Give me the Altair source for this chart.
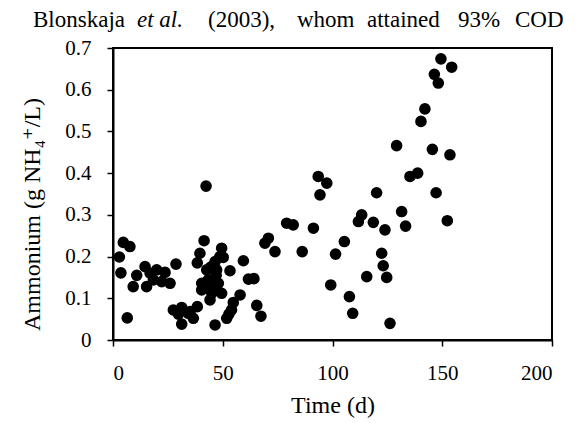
import altair as alt
import pandas as pd

# Time (d)
days = [
    2.9, 4.7, 7.7, 3.6, 6.5, 9.2, 10.8, 14.6, 15.3, 16.9, 18.4, 19.9, 22.2, 23.7, 26.0, 28.7,
    27.5, 29.8, 31.3, 31.3, 34.3, 36.6, 38.4, 35.1,
    38.4, 39.6, 41.5, 42.4, 42.7, 40.4, 40.4, 43.4, 45.7, 44.2, 46.5, 47.2, 48.0, 48.7,
    49.5, 50.2, 49.5, 46.5, 51.8, 52.8, 53.3, 54.0, 54.8, 57.9, 59.4, 61.7, 64.2, 65.5,
    67.4, 44.5, 47.0, 41.5, 45.0,
    69.2, 70.8, 73.8, 79.1, 82.1, 86.2, 91.3, 93.5, 97.4, 94.3, 99.2, 101.4, 105.4,
    107.7, 109.2, 111.8, 113.3, 115.6, 118.6, 120.1, 122.4, 123.1, 123.9, 124.7, 126.2,
    129.2, 131.5, 133.3, 135.3, 138.8, 140.3, 142.1, 145.5, 146.4, 147.2, 148.2, 149.4,
    152.3, 153.5, 154.3,
]
# Ammonium (g NH4+/L)
ammonium = [
    0.199, 0.234, 0.224, 0.161, 0.053, 0.128, 0.155, 0.176, 0.128, 0.160, 0.144, 0.168, 0.140, 0.162, 0.136, 0.182,
    0.072, 0.062, 0.078, 0.038, 0.064, 0.052, 0.080, 0.068,
    0.185, 0.208, 0.238, 0.369, 0.168, 0.136, 0.120, 0.144, 0.128, 0.096, 0.188, 0.168, 0.136, 0.200,
    0.220, 0.198, 0.112, 0.036, 0.052, 0.062, 0.166, 0.072, 0.090, 0.108, 0.190, 0.146, 0.147, 0.083,
    0.057, 0.175, 0.155, 0.130, 0.112,
    0.232, 0.244, 0.212, 0.280, 0.276, 0.212, 0.268, 0.392, 0.376, 0.348, 0.132, 0.206, 0.236,
    0.104, 0.064, 0.284, 0.300, 0.152, 0.282, 0.353, 0.208, 0.178, 0.264, 0.150, 0.040,
    0.466, 0.308, 0.273, 0.392, 0.400, 0.524, 0.554, 0.457, 0.637, 0.353, 0.616, 0.674,
    0.286, 0.444, 0.654,
]

x_ticks = [0, 50, 100, 150, 200]
y_ticks = [0, 0.1, 0.2, 0.3, 0.4, 0.5, 0.6, 0.7]

header_words = ["Blonskaja", "et al.", "(2003),", "whom", "attained", "93%", "COD"]
header_x = [33, 137, 208, 297, 367, 458, 515]
header_italic = [False, True, False, False, False, False, False]

df = pd.DataFrame({"day": days, "nh4": ammonium})

FONT = "Times New Roman, Liberation Serif, DejaVu Serif, serif"

points = alt.Chart(df).mark_circle(color="black", opacity=1, size=135).encode(
    x=alt.X(
        "day:Q",
        scale=alt.Scale(domain=[0, 200], nice=False),
        axis=alt.Axis(
            values=x_ticks,
            title="Time (d)",
            labelPadding=16,
            titlePadding=10,
        ),
    ),
    y=alt.Y(
        "nh4:Q",
        scale=alt.Scale(domain=[0, 0.7], nice=False),
        axis=alt.Axis(
            values=y_ticks,
            format="~g",
            title="Ammonium (g NH₄⁺/L)",
            labelPadding=16,
            titleX=-81,
            titleY=166,
            titleAngle=270,
            titleAlign="center",
            titleBaseline="middle",
        ),
    ),
)

layers = [points]
for w, px, it in zip(header_words, header_x, header_italic):
    layers.append(
        alt.Chart(pd.DataFrame({"t": [w]}))
        .mark_text(
            font=FONT,
            fontSize=23,
            fontStyle="italic" if it else "normal",
            align="left",
            baseline="alphabetic",
            color="black",
        )
        .encode(text="t:N", x=alt.value(px - 113), y=alt.value(27 - 48))
    )

chart = (
    alt.layer(*layers)
    .properties(
        width=439,
        height=292,
        autosize=alt.AutoSizeParams(type="none"),
        padding={"left": 113, "top": 48, "right": 34, "bottom": 83},
        background="white",
    )
    .configure_view(stroke="black", strokeWidth=2)
    .configure_axis(
        grid=False,
        domainColor="black",
        domainWidth=2,
        tickColor="black",
        tickWidth=1.5,
        tickSize=6,
        labelFont=FONT,
        labelFontSize=21,
        labelColor="black",
        titleFont=FONT,
        titleFontSize=24,
        titleFontWeight="normal",
        titleColor="black",
    )
)

chart.save("out.html", embed_options={"renderer": "svg", "actions": False})
